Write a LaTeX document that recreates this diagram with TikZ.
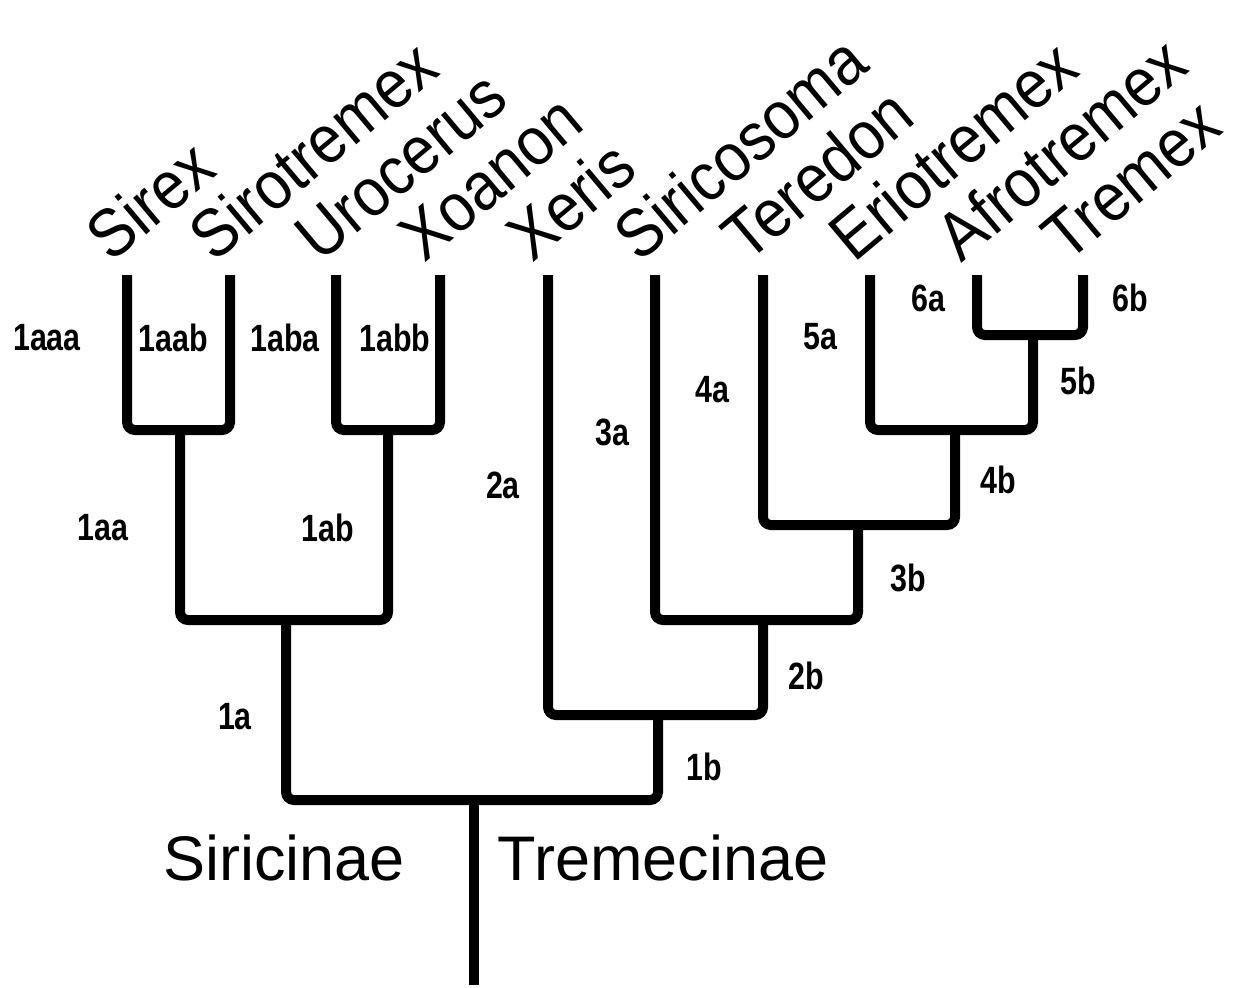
\documentclass[tikz,border=0pt]{standalone}
\usepackage{fontspec}
\setmainfont{Liberation Sans}
\newfontfamily\narrowfont[FakeStretch=0.8]{Liberation Sans}
\newfontfamily\taxonfont[FakeStretch=0.9]{Liberation Sans}
\usetikzlibrary{positioning}
\tikzset{
  branch/.style={line width=5pt, rounded corners=4pt},
  taxon/.style={font=\taxonfont\fontsize{34}{34}\selectfont, rotate=40,
    anchor=base west, inner sep=0pt, xshift=-10pt},
  brlabel/.style={font=\narrowfont\bfseries\fontsize{19}{19}\selectfont,
    inner sep=0pt},
  subfam/.style={font=\fontsize{31.5}{32}\selectfont, inner sep=0pt},
}

\begin{document}
\begin{tikzpicture}[x=0.5pt, y=-0.5pt]
\useasboundingbox (0,0) rectangle (1249,987);
% leaf tips
\coordinate (sirex) at (127,275);
\coordinate (sirotremex) at (230,275);
\coordinate (urocerus) at (336,275);
\coordinate (xoanon) at (440,275);
\coordinate (xeris) at (548,275);
\coordinate (siricosoma) at (655,275);
\coordinate (teredon) at (763,275);
\coordinate (eriotremex) at (870,275);
\coordinate (afrotremex) at (977,275);
\coordinate (tremex) at (1083,275);
% clade junctions
\coordinate (c1aa) at (180,430);
\coordinate (c1ab) at (388,430);
\coordinate (c1a) at (286,620);
\coordinate (c5b) at (1033,335);
\coordinate (c4b) at (955,430);
\coordinate (c3b) at (858,525);
\coordinate (c2b) at (763,620);
\coordinate (c1b) at (658,715);
\coordinate (root) at (474,800);
\coordinate (base) at (474,985);

% taxon names
\node[taxon] (n-sirex) at (sirex |- 0,251) {Sirex};
\node[taxon] (n-sirotremex) at (sirotremex |- 0,251) {Sirotremex};
\node[taxon] (n-urocerus) at (urocerus |- 0,251) {Urocerus};
\node[taxon] (n-xoanon) at (xoanon |- 0,251) {Xoanon};
\node[taxon] (n-xeris) at (xeris |- 0,251) {Xeris};
\node[taxon] (n-siricosoma) at (siricosoma |- 0,251) {Siricosoma};
\node[taxon] (n-teredon) at (teredon |- 0,251) {Teredon};
\node[taxon] (n-eriotremex) at (eriotremex |- 0,251) {Eriotremex};
\node[taxon] (n-afrotremex) at (afrotremex |- 0,251) {Afrotremex};
\node[taxon] (n-tremex) at (tremex |- 0,251) {Tremex};

% branches
\draw[branch] (sirex) |- (c1aa);
\draw[branch] (sirotremex) |- (c1aa);
\draw[branch] (urocerus) |- (c1ab);
\draw[branch] (xoanon) |- (c1ab);
\draw[branch] (c1aa) |- (c1a);
\draw[branch] (c1ab) |- (c1a);
\draw[branch] (afrotremex) |- (c5b);
\draw[branch] (tremex) |- (c5b);
\draw[branch] (eriotremex) |- (c4b);
\draw[branch] (c5b) |- (c4b);
\draw[branch] (teredon) |- (c3b);
\draw[branch] (c4b) |- (c3b);
\draw[branch] (siricosoma) |- (c2b);
\draw[branch] (c3b) |- (c2b);
\draw[branch] (xeris) |- (c1b);
\draw[branch] (c2b) |- (c1b);
\draw[branch] (c1a) |- (root);
\draw[branch] (c1b) |- (root);
\draw[branch] (root) -- (base);

% branch labels
\node[brlabel] (l1aaa) at (47,338) {1aaa};
\node[brlabel] (l1aab) at (173,338) {1aab};
\node[brlabel] (l1aba) at (285,338) {1aba};
\node[brlabel] (l1abb) at (395,338) {1abb};
\node[brlabel] (l1aa) at (103,528) {1aa};
\node[brlabel] (l1ab) at (328,528) {1ab};
\node[brlabel] (l1a) at (235,717) {1a};
\node[brlabel] (l2a) at (503,485) {2a};
\node[brlabel] (l3a) at (612,432) {3a};
\node[brlabel] (l4a) at (712,390) {4a};
\node[brlabel] (l5a) at (820,337) {5a};
\node[brlabel] (l6a) at (928,298) {6a};
\node[brlabel] (l6b) at (1130,298) {6b};
\node[brlabel] (l5b) at (1078,381) {5b};
\node[brlabel] (l4b) at (998,480) {4b};
\node[brlabel] (l3b) at (908,578) {3b};
\node[brlabel] (l2b) at (806,676) {2b};
\node[brlabel] (l1b) at (704,767) {1b};

% subfamilies
\node[subfam] (siricinae) at (284,858) {Siricinae};
\node[subfam] (tremecinae) at (663,858) {Tremecinae};
\end{tikzpicture}
\end{document}
